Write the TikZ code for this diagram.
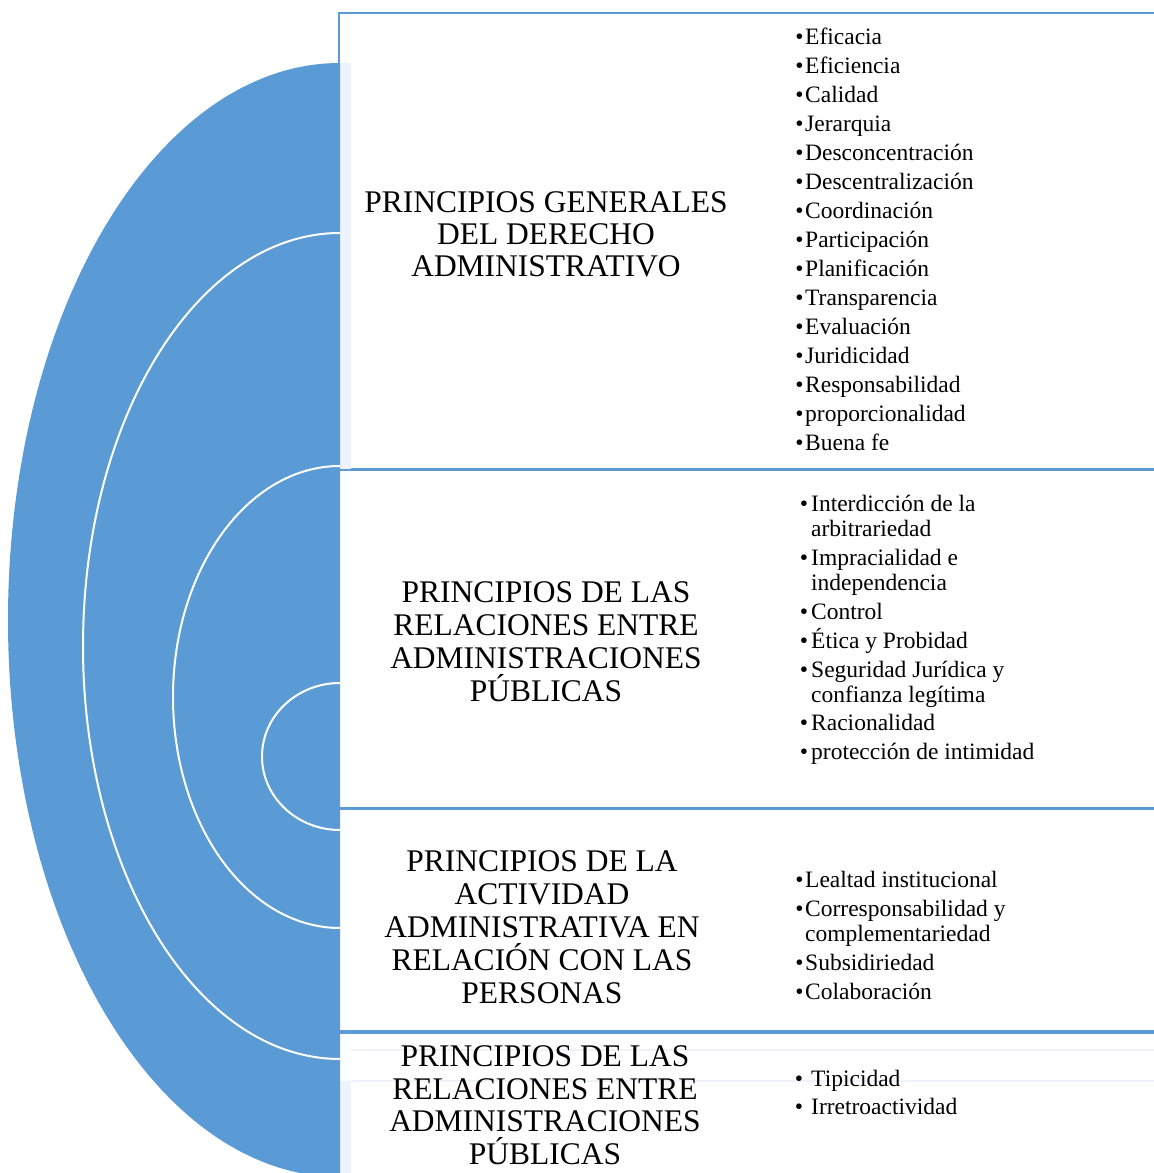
\documentclass[tikz,border=0pt]{standalone}
\usepackage{fontspec}
\setmainfont{Liberation Serif}
\definecolor{sblue}{HTML}{5B9BD5}
\definecolor{faint}{HTML}{EEF3FA}
\newcommand\mybul[1]{\llap{•\hspace{#1pt}}}
\tikzset{
  title/.style={font=\fontsize{31.5}{33}\selectfont, inner sep=0pt, anchor=base},
  item/.style={font=\fontsize{23.5}{25}\selectfont, inner sep=0pt, anchor=base west},
  boxline/.style={draw=sblue, line width=2pt},
  ring/.style={draw=white, line width=2pt},
}
\begin{document}
\begin{tikzpicture}[x=1pt,y=1pt]
\clip (0,0) rectangle (1154,1173);
\fill[white] (0,0) rectangle (1154,1173);
% boxes
\draw[boxline] (339,1160) rectangle (1170,704);
\draw[boxline] (339,703) rectangle (1170,365);
\draw[boxline] (337,364) rectangle (1170,142);
\draw[boxline] (339,140) rectangle (1170,-10);
% faint shadows
\fill[faint] (340,704) rectangle (351,1110);
\fill[faint] (340,-5) rectangle (351,92);
\draw[faint, line width=2pt] (351,123) -- (1160,123);
\draw[faint, line width=2pt] (351,92) -- (1160,92);
% blue half-ellipse
\fill[sblue] (340,1110) arc[start angle=90, end angle=270, x radius=332, y radius=557] -- cycle;
% white rings
\draw[ring] (340,940) arc[start angle=90, end angle=270, x radius=257, y radius=413];
\draw[ring] (340,707) arc[start angle=90, end angle=270, x radius=167, y radius=231];
\draw[ring] (340,490) arc[start angle=90, end angle=270, x radius=78, y radius=73.5];
% titles
\foreach \txt [count=\i] in {PRINCIPIOS GENERALES, DEL DERECHO, ADMINISTRATIVO}
  \node[title] (ta\i) at (546,{960-32*(\i-1)}) {\txt};
\foreach \txt [count=\i] in {PRINCIPIOS DE LAS, RELACIONES ENTRE, ADMINISTRACIONES, PÚBLICAS}
  \node[title] (tb\i) at (546,{570-33*(\i-1)}) {\txt};
\foreach \txt [count=\i] in {PRINCIPIOS DE LA, ACTIVIDAD, ADMINISTRATIVA EN, RELACIÓN CON LAS, PERSONAS}
  \node[title] (tc\i) at (542,{301-33*(\i-1)}) {\txt};
\foreach \txt [count=\i] in {PRINCIPIOS DE LAS, RELACIONES ENTRE, ADMINISTRACIONES, PÚBLICAS}
  \node[title] (td\i) at (545,{106-32.5*(\i-1)}) {\txt};
% lists
\foreach \txt [count=\i] in {Eficacia, Eficiencia, Calidad, Jerarquia, Desconcentración, Descentralización, Coordinación, Participación, Planificación, Transparencia, Evaluación, Juridicidad, Responsabilidad, proporcionalidad, Buena fe}
  \node[item] (la\i) at (805,{1128-29*(\i-1)}) {\mybul{1.5}\txt};
\foreach \txt/\yy [count=\i] in {\mybul{3}Interdicción de la/661, arbitrariedad/636, \mybul{3}Impracialidad e/607, independencia/582, \mybul{3}Control/553, \mybul{3}Ética y Probidad/524, \mybul{3}Seguridad Jurídica y/495, confianza legítima/470, \mybul{3}Racionalidad/442, \mybul{3}protección de intimidad/413}
  \node[item] (lb\i) at (811,\yy) {\txt};
\foreach \txt/\yy [count=\i] in {\mybul{1.5}Lealtad institucional/285, \mybul{1.5}Corresponsabilidad y/256, complementariedad/231, \mybul{1.5}Subsidiriedad/202, \mybul{1.5}Colaboración/173}
  \node[item] (lc\i) at (805,\yy) {\txt};
\foreach \txt/\yy [count=\i] in {\mybul{8}Tipicidad/86, \mybul{8}Irretroactividad/58}
  \node[item] (ld\i) at (811,\yy) {\txt};
\end{tikzpicture}
\end{document}
